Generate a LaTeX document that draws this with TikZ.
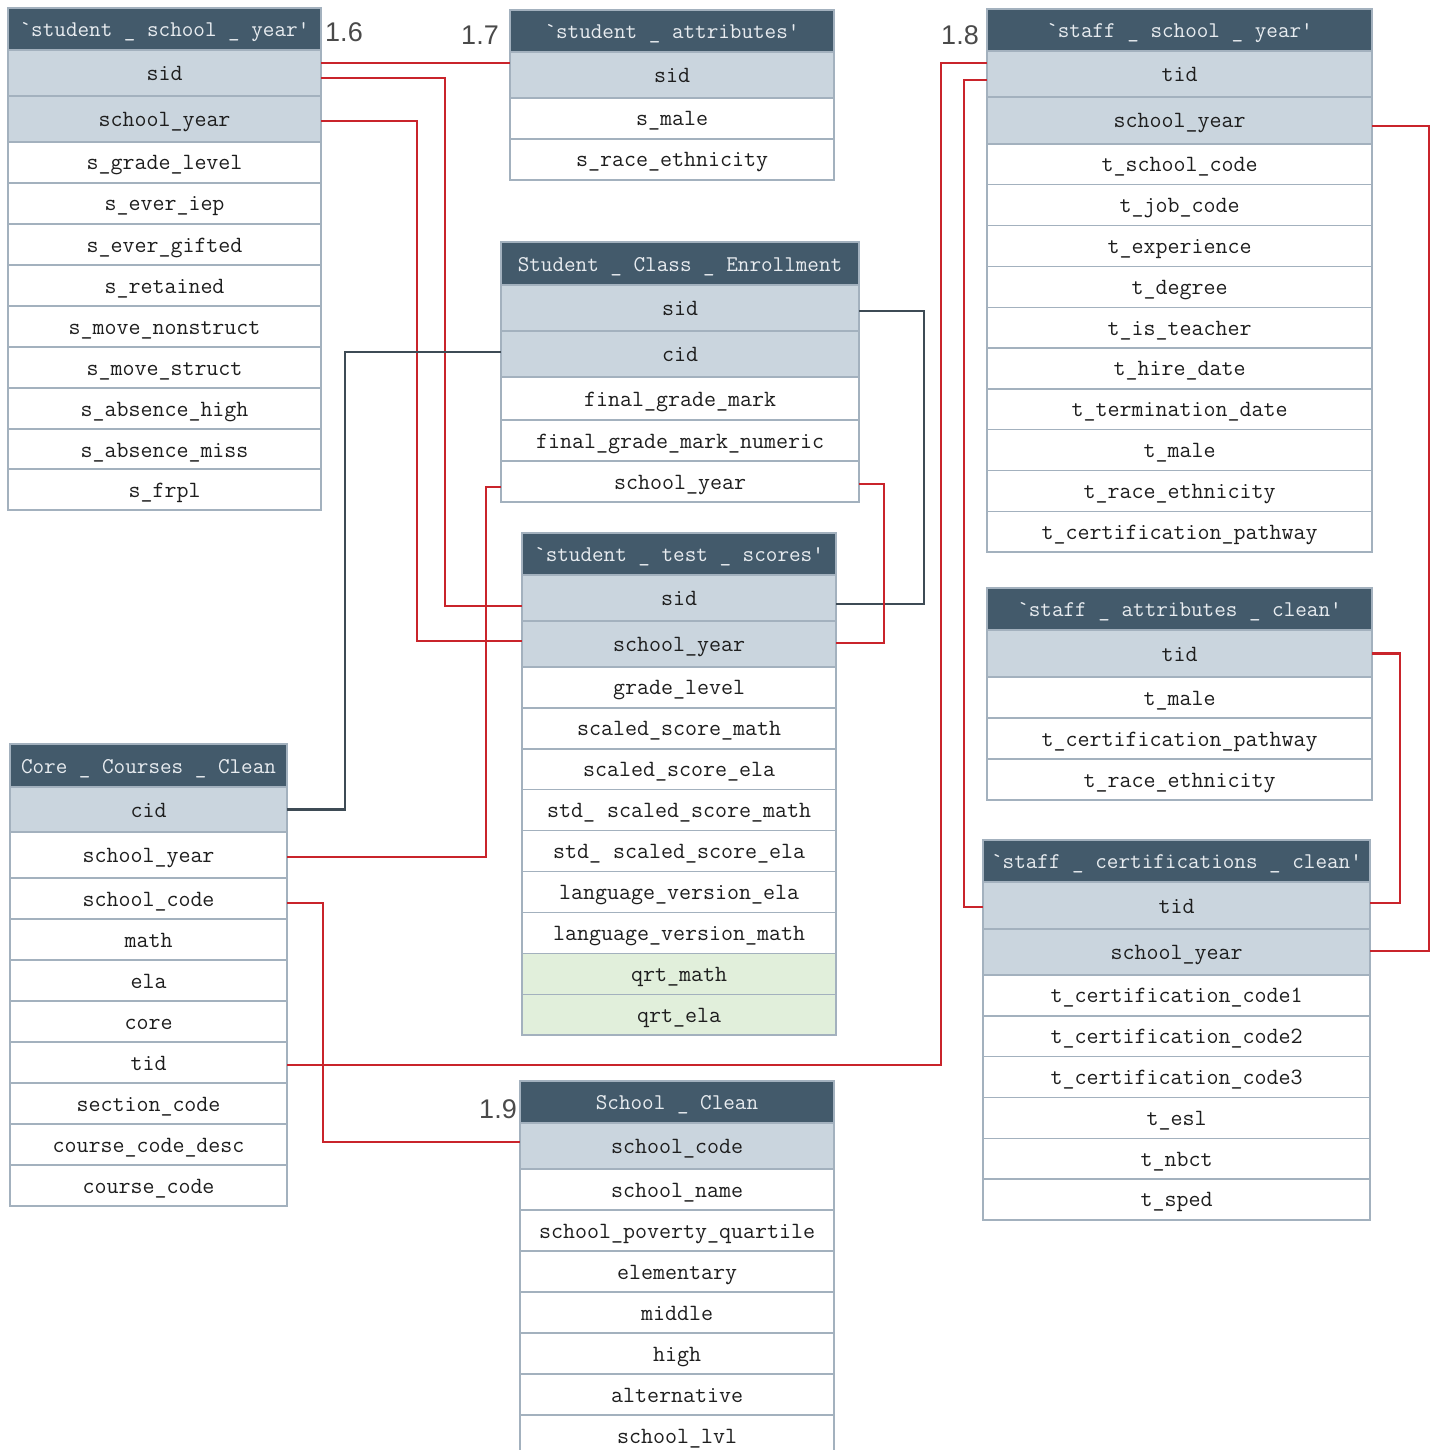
\documentclass[tikz,border=0pt]{standalone}
\usepackage{fontspec}
\setmainfont{Liberation Sans}
\definecolor{hdrc}{HTML}{435A6B}
\definecolor{keyc}{HTML}{CAD5DE}
\definecolor{bordc}{HTML}{A3B1BE}
\definecolor{hdrtxt}{HTML}{E8ECF0}
\definecolor{rowtxt}{HTML}{1E1E1E}
\definecolor{grnc}{HTML}{E1EFDB}
\definecolor{redc}{HTML}{C9242B}
\definecolor{darkc}{HTML}{3E4B55}
\definecolor{lblc}{HTML}{4A4A4A}
\tikzset{
  wd/.style={minimum width=#1},
  ht/.style={minimum height=#1},
  cell/.style={rectangle, draw=bordc, line width=1.4pt, anchor=north west, inner sep=0pt, outer sep=0pt, text height=21pt, text depth=6pt},
  hdr/.style={cell, fill=hdrc, text=hdrtxt, font=\ttfamily\fontsize{22.5}{25}\selectfont},
  key/.style={cell, fill=keyc, text=rowtxt, font=\ttfamily\fontsize{23.3}{26}\selectfont},
  fld/.style={cell, fill=white, text=rowtxt, font=\ttfamily\fontsize{23.3}{26}\selectfont},
  grn/.style={cell, fill=grnc, text=rowtxt, font=\ttfamily\fontsize{23.3}{26}\selectfont},
  rl/.style={draw=redc, line width=2.4pt},
  dl/.style={draw=darkc, line width=2.4pt},
  lbl/.style={font=\fontsize{27}{30}\selectfont, text=lblc, inner sep=0pt}
}
\begin{document}
\begin{tikzpicture}[x=1pt,y=-1pt]
\clip (0,0) rectangle (1438,1450);
\fill[white] (0,0) rectangle (1438,1450);

% Table A: student_school_year
\node[hdr,wd=313,ht=42] (A) at (8,8) {`student \_ school \_ year'};
\node[key,wd=313,ht=46] (A-sid) at (8,50) {sid};
\node[key,wd=313,ht=46] (A-sy) at (8,96) {school\_year};
\node[fld,wd=313,ht=41] (A-1) at (8,142) {s\_grade\_level};
\node[fld,wd=313,ht=41] (A-2) at (8,183) {s\_ever\_iep};
\node[fld,wd=313,ht=41] (A-3) at (8,224) {s\_ever\_gifted};
\node[fld,wd=313,ht=41] (A-4) at (8,265) {s\_retained};
\node[fld,wd=313,ht=41] (A-5) at (8,306) {s\_move\_nonstruct};
\node[fld,wd=313,ht=41] (A-6) at (8,347) {s\_move\_struct};
\node[fld,wd=313,ht=41] (A-7) at (8,388) {s\_absence\_high};
\node[fld,wd=313,ht=41] (A-8) at (8,429) {s\_absence\_miss};
\node[fld,wd=313,ht=41] (A-9) at (8,469) {s\_frpl};

% Table B: student_attributes
\node[hdr,wd=324,ht=42] (B) at (510,10) {`student \_ attributes'};
\node[key,wd=324,ht=46] (B-sid) at (510,52) {sid};
\node[fld,wd=324,ht=41] (B-1) at (510,98) {s\_male};
\node[fld,wd=324,ht=41] (B-2) at (510,139) {s\_race\_ethnicity};

% Table C: staff_school_year
\node[hdr,wd=385,ht=42] (C) at (987,9) {`staff \_ school \_ year'};
\node[key,wd=385,ht=46] (C-tid) at (987,51) {tid};
\node[key,wd=385,ht=47] (C-sy) at (987,97) {school\_year};
\node[fld,wd=385,ht=40.8] (C-1) at (987,144) {t\_school\_code};
\node[fld,wd=385,ht=40.8] (C-2) at (987,184.8) {t\_job\_code};
\node[fld,wd=385,ht=40.8] (C-3) at (987,225.6) {t\_experience};
\node[fld,wd=385,ht=40.8] (C-4) at (987,266.4) {t\_degree};
\node[fld,wd=385,ht=40.8] (C-5) at (987,307.2) {t\_is\_teacher};
\node[fld,wd=385,ht=40.8] (C-6) at (987,348) {t\_hire\_date};
\node[fld,wd=385,ht=40.8] (C-7) at (987,388.8) {t\_termination\_date};
\node[fld,wd=385,ht=40.8] (C-8) at (987,429.6) {t\_male};
\node[fld,wd=385,ht=40.8] (C-9) at (987,470.4) {t\_race\_ethnicity};
\node[fld,wd=385,ht=40.8] (C-10) at (987,511.2) {t\_certification\_pathway};

% Table D: Student_Class_Enrollment
\node[hdr,wd=358,ht=43] (D) at (501,242) {Student \_ Class \_ Enrollment};
\node[key,wd=358,ht=46] (D-sid) at (501,285) {sid};
\node[key,wd=358,ht=46] (D-cid) at (501,331) {cid};
\node[fld,wd=358,ht=43] (D-1) at (501,377) {final\_grade\_mark};
\node[fld,wd=358,ht=41] (D-2) at (501,420) {final\_grade\_mark\_numeric};
\node[fld,wd=358,ht=41] (D-sy) at (501,461) {school\_year};

% Table E: student_test_scores
\node[hdr,wd=314,ht=42] (E) at (522,533) {`student \_ test \_ scores'};
\node[key,wd=314,ht=46] (E-sid) at (522,575) {sid};
\node[key,wd=314,ht=46] (E-sy) at (522,621) {school\_year};
\node[fld,wd=314,ht=40.9] (E-1) at (522,667) {grade\_level};
\node[fld,wd=314,ht=40.9] (E-2) at (522,707.9) {scaled\_score\_math};
\node[fld,wd=314,ht=40.9] (E-3) at (522,748.8) {scaled\_score\_ela};
\node[fld,wd=314,ht=40.9] (E-4) at (522,789.7) {std\_ scaled\_score\_math};
\node[fld,wd=314,ht=40.9] (E-5) at (522,830.6) {std\_ scaled\_score\_ela};
\node[fld,wd=314,ht=40.9] (E-6) at (522,871.5) {language\_version\_ela};
\node[fld,wd=314,ht=40.9] (E-7) at (522,912.4) {language\_version\_math};
\node[grn,wd=314,ht=40.9] (E-8) at (522,953.3) {qrt\_math};
\node[grn,wd=314,ht=40.9] (E-9) at (522,994.2) {qrt\_ela};

% Table F: Core_Courses_Clean
\node[hdr,wd=277,ht=43] (F) at (10,744) {Core \_ Courses \_ Clean};
\node[key,wd=277,ht=45] (F-cid) at (10,787) {cid};
\node[fld,wd=277,ht=46] (F-sy) at (10,832) {school\_year};
\node[fld,wd=277,ht=41] (F-sc) at (10,878) {school\_code};
\node[fld,wd=277,ht=41] (F-1) at (10,919) {math};
\node[fld,wd=277,ht=41] (F-2) at (10,960) {ela};
\node[fld,wd=277,ht=41] (F-3) at (10,1001) {core};
\node[fld,wd=277,ht=41] (F-tid) at (10,1042) {tid};
\node[fld,wd=277,ht=41] (F-4) at (10,1083) {section\_code};
\node[fld,wd=277,ht=41] (F-5) at (10,1124) {course\_code\_desc};
\node[fld,wd=277,ht=41] (F-6) at (10,1165) {course\_code};

% Table G: School_Clean
\node[hdr,wd=314,ht=42] (G) at (520,1081) {School \_ Clean};
\node[key,wd=314,ht=46] (G-sc) at (520,1123) {school\_code};
\node[fld,wd=314,ht=41] (G-1) at (520,1169) {school\_name};
\node[fld,wd=314,ht=41] (G-2) at (520,1210) {school\_poverty\_quartile};
\node[fld,wd=314,ht=41] (G-3) at (520,1251) {elementary};
\node[fld,wd=314,ht=41] (G-4) at (520,1292) {middle};
\node[fld,wd=314,ht=41] (G-5) at (520,1333) {high};
\node[fld,wd=314,ht=41] (G-6) at (520,1374) {alternative};
\node[fld,wd=314,ht=41] (G-7) at (520,1415) {school\_lvl};

% Table H: staff_attributes_clean
\node[hdr,wd=385,ht=42] (H) at (987,588) {`staff \_ attributes \_ clean'};
\node[key,wd=385,ht=47] (H-tid) at (987,630) {tid};
\node[fld,wd=385,ht=41] (H-1) at (987,677) {t\_male};
\node[fld,wd=385,ht=41] (H-2) at (987,718) {t\_certification\_pathway};
\node[fld,wd=385,ht=41] (H-3) at (987,759) {t\_race\_ethnicity};

% Table I: staff_certifications_clean
\node[hdr,wd=387,ht=42] (I) at (983,840) {`staff \_ certifications \_ clean'};
\node[key,wd=387,ht=47] (I-tid) at (983,882) {tid};
\node[key,wd=387,ht=46] (I-sy) at (983,929) {school\_year};
\node[fld,wd=387,ht=40.8] (I-1) at (983,975) {t\_certification\_code1};
\node[fld,wd=387,ht=40.8] (I-2) at (983,1015.8) {t\_certification\_code2};
\node[fld,wd=387,ht=40.8] (I-3) at (983,1056.6) {t\_certification\_code3};
\node[fld,wd=387,ht=40.8] (I-4) at (983,1097.4) {t\_esl};
\node[fld,wd=387,ht=40.8] (I-5) at (983,1138.2) {t\_nbct};
\node[fld,wd=387,ht=40.8] (I-6) at (983,1179) {t\_sped};

% Labels
\node[lbl] (l16) at (344,32) {1.6};
\node[lbl] (l17) at (480,35) {1.7};
\node[lbl] (l18) at (960,35) {1.8};
\node[lbl] (l19) at (498,1109) {1.9};

% Connectors
\draw[rl] ([yshift=10pt]A-sid.east) -- ([yshift=12pt]B-sid.west);
\draw[rl] ([yshift=-5pt]A-sid.east) -- ++(124,0) |- ([yshift=-8pt]E-sid.west);
\draw[rl] ([yshift=-2pt]A-sy.east) -- ++(96,0) |- ([yshift=3pt]E-sy.west);
\draw[dl] ([yshift=-3pt]D-sid.east) -- ++(65,0) |- ([yshift=-6pt]E-sid.east);
\draw[rl] ([yshift=-2.5pt]D-sy.east) -- ++(25,0) |- ([yshift=1pt]E-sy.east);
\draw[dl] ([yshift=2pt]D-cid.west) -- ++(-156,0) |- (F-cid.east);
\draw[rl] ([yshift=-5.5pt]D-sy.west) -- ++(-15,0) |- ([yshift=-2pt]F-sy.east);
\draw[rl] ([yshift=-4.5pt]F-sc.east) -- ++(36,0) |- ([yshift=4pt]G-sc.west);
\draw[rl] ([yshift=-2.5pt]F-tid.east) -- ++(654,0) |- ([yshift=11pt]C-tid.west);
\draw[rl] ([yshift=-6pt]C-tid.west) -- ++(-23,0) |- ([yshift=-1.5pt]I-tid.west);
\draw[rl] ([yshift=-5.5pt]C-sy.east) -- ++(57,0) |- ([yshift=1pt]I-sy.east);
\draw[rl] (H-tid.east) -- ++(28,0) |- ([yshift=2.5pt]I-tid.east);
\end{tikzpicture}
\end{document}
